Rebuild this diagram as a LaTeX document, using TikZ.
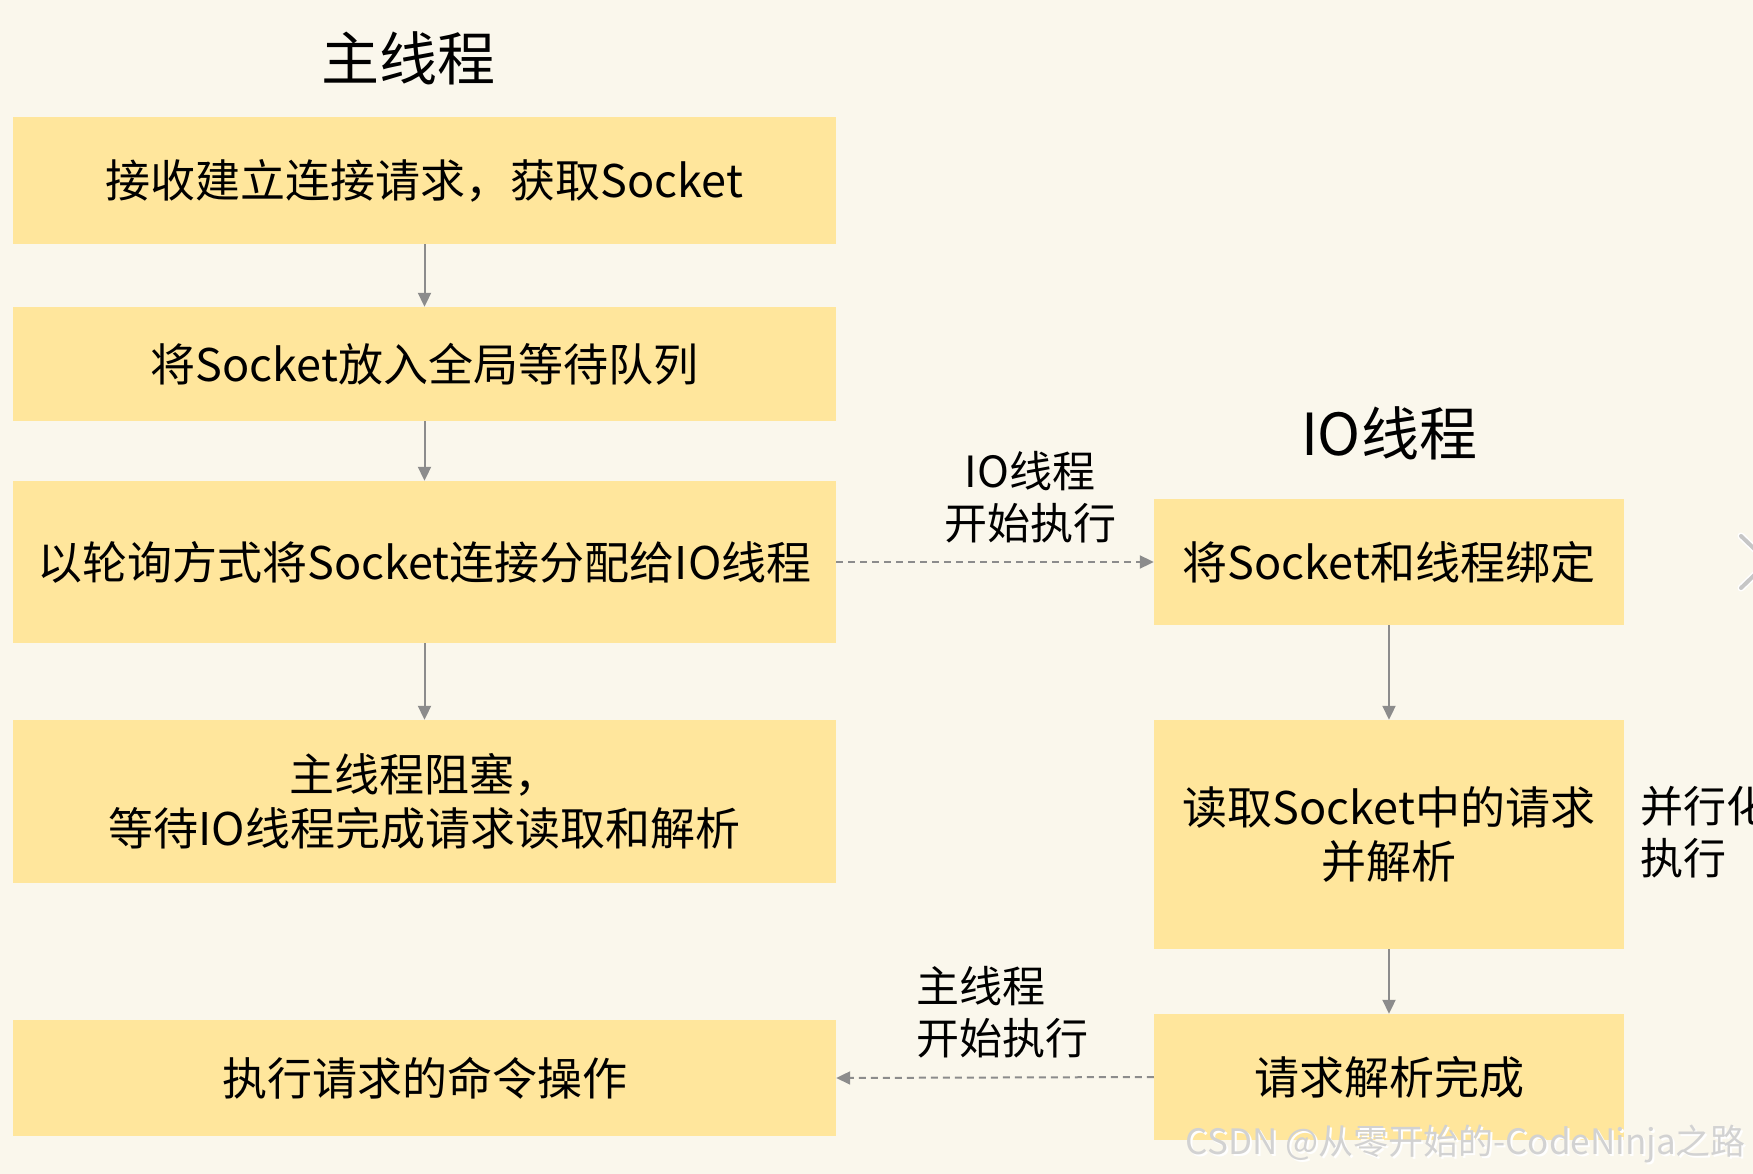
\documentclass[tikz,border=0pt]{standalone}
\usepackage{fontspec}
\setmainfont{Noto Sans CJK SC}
\usetikzlibrary{arrows.meta}
\definecolor{bg}{HTML}{FAF7EC}
\definecolor{boxfill}{HTML}{FFE69C}
\definecolor{arr}{HTML}{8C8C8C}
\tikzset{
  box/.style={fill=boxfill, draw=none, inner sep=0pt, align=center, font=\fontsize{45}{54}\selectfont},
  title/.style={font=\fontsize{58}{66}\selectfont, inner sep=0pt},
  lbl/.style={font=\fontsize{43}{52}\selectfont, align=center, inner sep=0pt},
  flow/.style={draw=arr, line width=2pt, -{Triangle[length=14pt,width=13pt]}},
  dflow/.style={flow, dash pattern=on 7pt off 5pt},
}
\begin{document}
\begin{tikzpicture}[x=1pt,y=-1pt]
\useasboundingbox (0,0) rectangle (1753,1174);
\fill[bg] (0,0) rectangle (1753,1174);
\clip (0,0) rectangle (1753,1174);

\node[title] (t1) at (408,58) {主线程};
\node[title] (t2) at (1389,433) {IO线程};

% left column
\node[box, minimum width=823pt, minimum height=127pt] (b1) at (424.5,180.5) {接收建立连接请求，获取Socket};
\node[box, minimum width=823pt, minimum height=114pt] (b2) at (424.5,364) {将Socket放入全局等待队列};
\node[box, minimum width=823pt, minimum height=162pt] (b3) at (424.5,562) {以轮询方式将Socket连接分配给IO线程};
\node[box, minimum width=823pt, minimum height=163pt] (b4) at (424.5,801.5) {主线程阻塞，\\等待IO线程完成请求读取和解析};
\node[box, minimum width=823pt, minimum height=116pt] (b5) at (424.5,1078) {执行请求的命令操作};

% right column
\node[box, minimum width=470pt, minimum height=126pt] (r1) at (1389,562) {将Socket和线程绑定};
\node[box, minimum width=470pt, minimum height=229pt] (r2) at (1389,834.5) {读取Socket中的请求\\并解析};
\node[box, minimum width=470pt, minimum height=126pt] (r3) at (1389,1077) {请求解析完成};

% vertical arrows
\draw[flow] (b1.south) -- (b2.north);
\draw[flow] (b2.south) -- (b3.north);
\draw[flow] (b3.south) -- (b4.north);
\draw[flow] (r1.south) -- (r2.north);
\draw[flow] (r2.south) -- (r3.north);

% dashed arrows
\draw[dflow] (b3.east) -- (r1.west);
\draw[dflow] (r3.west) -- (b5.east);

\node[lbl] (l1) at (1030,497) {IO线程\\开始执行};
\node[lbl, align=left, anchor=west] (l2) at (916,1012) {主线程\\开始执行};

\node[lbl, anchor=west, align=left] (par) at (1640,832) {并行化\\执行};

% partial chevron at right edge
\draw[white, line width=7pt, line cap=round] (1741,536) -- (1768,562) -- (1741,588);
\draw[gray!45, line width=4pt, line cap=round] (1741,536) -- (1768,562) -- (1741,588);

% watermark
\node[font=\fontsize{35}{40}\selectfont, text=white, inner sep=0pt, anchor=east] at (1748,1146) {CSDN @从零开始的-CodeNinja之路};
\node[font=\fontsize{35}{40}\selectfont, text=gray!35, inner sep=0pt, anchor=east] (wm) at (1746,1144) {CSDN @从零开始的-CodeNinja之路};
\end{tikzpicture}
\end{document}
